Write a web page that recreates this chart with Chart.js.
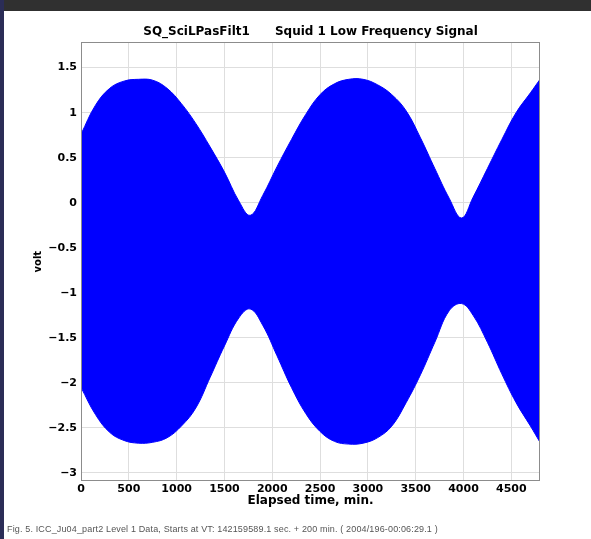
<!DOCTYPE html>
<html>
<head>
<meta charset="utf-8">
<script src="https://cdn.jsdelivr.net/npm/chart.js@4/dist/chart.umd.min.js"></script>
<style>
  html, body { margin: 0; padding: 0; background: #ffffff; }
  body { width: 591px; height: 539px; position: relative; overflow: hidden; }
  #topband { position: absolute; left: 0; top: 0; width: 591px; height: 11px; background: #303030; }
  #leftband { position: absolute; left: 0; top: 0; width: 4px; height: 539px; background: #2b2d57; }
  #wrap { position: absolute; left: 0; top: 0; width: 591px; height: 539px; }
  #caption { position: absolute; left: 7px; top: 524px; font: 9px "Liberation Sans", Arial, sans-serif; letter-spacing: 0.15px; color: #555; white-space: pre; }
</style>
</head>
<body>
<div id="topband"></div>
<div id="leftband"></div>
<div id="wrap"><canvas id="c" width="591" height="539"></canvas></div>
<div id="caption">Fig. 5. ICC_Ju04_part2 Level 1 Data, Starts at VT: 142159589.1 sec. + 200 min. ( 2004/196-00:06:29.1 )</div>
<script>
// Elapsed time samples (min)
const times = [0,150,300,450,600,750,900,1050,1200,1350,1500,1650,1770,1900,2050,2200,2350,2500,2650,2800,2950,3100,3250,3400,3550,3700,3850,3980,4100,4250,4400,4550,4700,4800];
// Upper envelope of the signal (volt)
const upperEnvelope = [0.76,1.08,1.27,1.35,1.37,1.36,1.27,1.10,0.88,0.62,0.34,0.02,-0.14,0.08,0.40,0.70,0.98,1.20,1.32,1.37,1.37,1.31,1.20,1.02,0.72,0.38,0.05,-0.17,0.06,0.38,0.70,1.00,1.22,1.37];
// Lower envelope of the signal (volt)
const lowerEnvelope = [-2.05,-2.35,-2.55,-2.64,-2.67,-2.66,-2.61,-2.48,-2.28,-1.94,-1.59,-1.28,-1.18,-1.36,-1.70,-2.05,-2.34,-2.54,-2.65,-2.68,-2.67,-2.61,-2.48,-2.22,-1.91,-1.55,-1.20,-1.12,-1.25,-1.55,-1.90,-2.22,-2.48,-2.66];

const xTickValues = [0,500,1000,1500,2000,2500,3000,3500,4000,4500];
const xTickLabels = ['0','500','1000','1500','2000','2500','3000','3500','4000','4500'];
const yTickValues = [-3,-2.5,-2,-1.5,-1,-0.5,0,0.5,1,1.5];
const yTickLabels = ['\u22123','\u22122.5','\u22122','\u22121.5','\u22121','\u22120.5','0','0.5','1','1.5'];

const titleText = 'SQ_SciLPasFilt1      Squid 1 Low Frequency Signal';
const xTitle = 'Elapsed time, min.';
const yTitle = 'volt';

const upperPts = times.map((t, i) => ({x: t, y: upperEnvelope[i]}));
const lowerPts = times.map((t, i) => ({x: t, y: lowerEnvelope[i]}));

const FONT = '"DejaVu Sans", "Liberation Sans", Arial, sans-serif';

const boxPlugin = {
  id: 'boxPlugin',
  afterDatasetsDraw(chart) {
    const {ctx, chartArea: a} = chart;
    ctx.save();
    ctx.strokeStyle = '#8c8c8c';
    ctx.lineWidth = 1;
    ctx.strokeRect(Math.round(a.left) + 0.5, Math.round(a.top) + 0.5, Math.round(a.right - a.left) - 1, Math.round(a.bottom - a.top) - 1);
    ctx.restore();
  }
};

new Chart(document.getElementById('c'), {
  type: 'line',
  data: {
    datasets: [
      { data: upperPts, borderColor: '#0000ff', backgroundColor: '#0000ff', borderWidth: 1, pointRadius: 0, fill: '+1', tension: 0.4 },
      { data: lowerPts, borderColor: '#0000ff', backgroundColor: '#0000ff', borderWidth: 1, pointRadius: 0, fill: false, tension: 0.4 }
    ]
  },
  options: {
    responsive: false,
    animation: false,
    events: [],
    layout: { padding: { left: 0, right: 51, top: 0, bottom: 28 } },
    plugins: {
      legend: { display: false },
      tooltip: { enabled: false },
      title: {
        display: true, text: titleText, fullSize: false, color: '#000',
        font: { family: FONT, size: 12, weight: 'bold' },
        padding: { top: 25, bottom: 3 }
      }
    },
    scales: {
      x: {
        type: 'linear', min: 0, max: 4800,
        afterFit(s) { s.height = 30; },
        afterBuildTicks(s) { s.ticks = xTickValues.map(v => ({value: v})); },
        ticks: {
          color: '#000', padding: 2, maxRotation: 0, autoSkip: false,
          font: { family: FONT, size: 11, weight: 'bold' },
          callback: (v) => { const i = xTickValues.indexOf(v); return i >= 0 ? xTickLabels[i] : ''; }
        },
        grid: { color: '#dedede', lineWidth: 1, drawTicks: false },
        border: { display: false },
        title: { display: true, text: xTitle, color: '#000', font: { family: FONT, size: 12, weight: 'bold' }, padding: { top: 0, bottom: 3 } }
      },
      y: {
        type: 'linear', min: -3.09, max: 1.78,
        afterFit(s) { s.width = 81; },
        afterBuildTicks(s) { s.ticks = yTickValues.map(v => ({value: v})); },
        ticks: {
          color: '#000', padding: 4, autoSkip: false,
          font: { family: FONT, size: 11, weight: 'bold' },
          callback: (v) => { const i = yTickValues.indexOf(v); return i >= 0 ? yTickLabels[i] : ''; }
        },
        grid: { color: '#dedede', lineWidth: 1, drawTicks: false },
        border: { display: false },
        title: { display: true, text: yTitle, color: '#000', font: { family: FONT, size: 10, weight: 'bold' }, padding: { top: 32, bottom: 0 } }
      }
    }
  },
  plugins: [boxPlugin]
});
</script>
</body>
</html>
